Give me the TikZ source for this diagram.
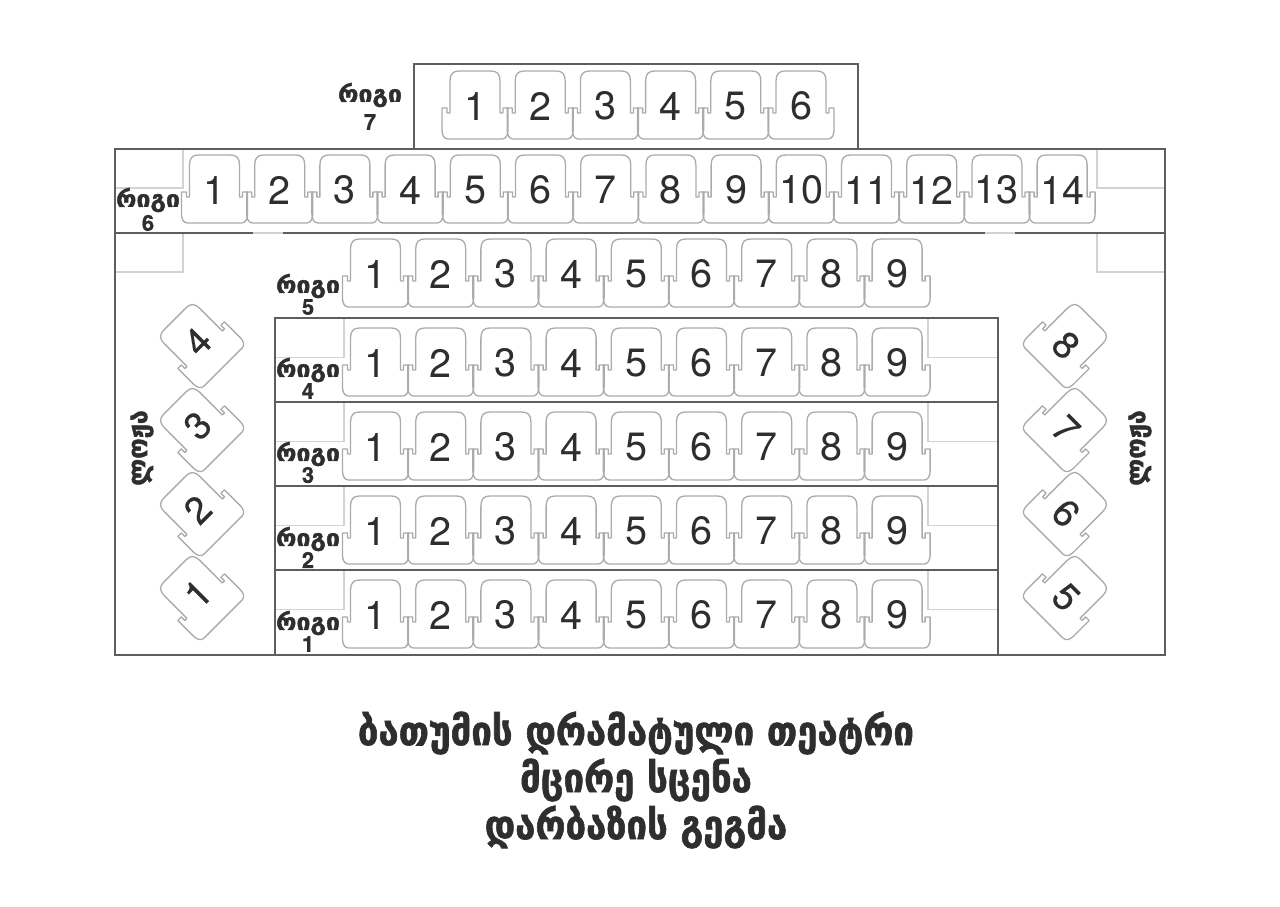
\documentclass[tikz,border=0pt]{standalone}
\usepackage{graphicx}
\usepackage{fontspec}
\setmainfont{TeX Gyre Heros}
\newfontfamily\geofont[BoldFeatures={FakeBold=1.6}]{DejaVu Sans}
\newfontfamily\numfont[BoldFeatures={FakeBold=0.8}]{TeX Gyre Heros}
\newfontfamily\sidefont[FakeBold=0.4]{TeX Gyre Heros}
\usetikzlibrary{calc, positioning}

\definecolor{seatgray}{HTML}{ABABAB}
\definecolor{framegray}{HTML}{5E5E5E}
\definecolor{paleline}{HTML}{D2D2D2}
\definecolor{inkgray}{HTML}{2E2E2E}

\tikzset{
  seatline/.style={draw=seatgray, line width=0.75pt, line join=round},
  framebox/.style={draw=framegray, line width=0.95pt},
  paleedge/.style={draw=paleline, line width=0.75pt},
  seatnum/.style={inner sep=0pt, text=inkgray, font=\fontsize{22.5}{22.5}\selectfont},
  sidenum/.style={inner sep=0pt, text=inkgray, font=\sidefont\fontsize{21.5}{21.5}\selectfont},
  rowword/.style={inner sep=0pt, text=inkgray, font=\geofont\bfseries\fontsize{13}{13}\selectfont},
  rownum/.style={inner sep=0pt, text=inkgray, font=\numfont\bfseries\fontsize{12.5}{12.5}\selectfont},
  sideword/.style={inner sep=0pt, text=inkgray, font=\geofont\bfseries\fontsize{13}{13}\selectfont},
  titleline/.style={inner sep=0pt, text=inkgray, font=\geofont\bfseries\fontsize{20}{20}\selectfont},
}

\newcommand{\seat}[6][1]{%
  \begin{scope}[shift={({#2},{#3})},rotate=#4]
    \draw[seatline] (-25,-24) .. controls (-25,-31) and (-22,-34) .. (-16,-34) -- (16,-34)
      .. controls (22,-34) and (25,-31) .. (25,-24) -- (25,8) -- (28,8) -- (28,3) -- (33,3) -- (33,25)
      .. controls (33,30) and (31,34) .. (27,34) -- (-27,34) .. controls (-31,34) and (-33,30) .. (-33,25)
      -- (-33,3) -- (-28,3) -- (-28,8) -- (-25,8) -- cycle;
    \node[#6,rotate=#4] (#5) at (0,#1) {\seatlabel};
  \end{scope}}

\begin{document}
\begin{tikzpicture}[x=0.02cm,y=-0.02cm]
\useasboundingbox (0,0) rectangle (1280,906);

% pale corner lines
\foreach \ytop in {318,402,486,570} {
  \draw[paleedge] (344,\ytop) -- (344,\ytop+39.5) -- (275,\ytop+39.5);
  \draw[paleedge] (928,\ytop) -- (928,\ytop+39.5) -- (998,\ytop+39.5);
}
\draw[paleedge] (183,149) -- (183,188) -- (115,188);
\draw[paleedge] (183,233) -- (183,272) -- (115,272);
\draw[paleedge] (1097,149) -- (1097,188) -- (1165,188);
\draw[paleedge] (1097,233) -- (1097,272) -- (1165,272);

% frames
\draw[framebox] (414,149) -- (414,64) -- (858,64) -- (858,149);
\draw[framebox] (115,149) rectangle (1165,655);
\draw[framebox] (115,233) -- (253,233);
\draw[paleedge] (253,233) -- (283,233);
\draw[framebox] (283,233) -- (985,233);
\draw[paleedge] (985,233) -- (1015,233);
\draw[framebox] (1015,233) -- (1165,233);
\draw[framebox] (275,318) rectangle (998,655);
\foreach \yline in {402,486,570} {
  \draw[framebox] (275,\yline) -- (998,\yline);
}

% rows of seats
\foreach \i in {1,...,6} {
  \let\seatlabel\i
  \seat{475+65.2*(\i-1)}{105}{0}{seatG\i}{seatnum}
}
\foreach \i in {1,...,14} {
  \let\seatlabel\i
  \seat{214.5+65.2*(\i-1)}{189}{0}{seatF\i}{seatnum}
}
\foreach \r/\yc in {E/273,D/362,C/446,B/530,A/614} {
  \foreach \i in {1,...,9} {
    \let\seatlabel\i
    \seat{375.5+65.2*(\i-1)}{\yc}{0}{seat\r\i}{seatnum}
  }
}

% boxes at the sides
\foreach \i/\yc in {1/595,2/511,3/427,4/343} {
  \let\seatlabel\i
  \seat[-2]{199}{\yc}{45}{boxL\i}{sidenum}
}
\foreach \i/\yc in {5/595,6/511,7/427,8/343} {
  \let\seatlabel\i
  \seat[3]{1068}{\yc}{-45}{boxR\i}{sidenum}
}

% row labels
\foreach \n/\xc/\yc/\yd in {7/370/95/122,6/148/200/223,5/308/286/307,4/308/370/391,3/308/454/475,2/308/539/560,1/308/623/644} {
  \node[rowword] (word\n) at (\xc,\yc) {\scalebox{1.09}[1]{რიგი}};
  \node[rownum] (num\n) at (\xc,\yd) {\n};
}
\node[sideword,rotate=90] (sideL) at (142,448) {\scalebox{1.1}[1.2]{ლოჟა}};
\node[sideword,rotate=90] (sideR) at (1140,448) {\scalebox{1.1}[1.2]{ლოჟა}};

% title
\node[titleline] (titleA) at (636,733) {\scalebox{1.04}[1.15]{ბათუმის დრამატული თეატრი}};
\node[titleline] (titleB) at (636,780) {\scalebox{1.04}[1.15]{მცირე სცენა}};
\node[titleline] (titleC) at (636,827) {\scalebox{1.04}[1.15]{დარბაზის გეგმა}};
\end{tikzpicture}
\end{document}
